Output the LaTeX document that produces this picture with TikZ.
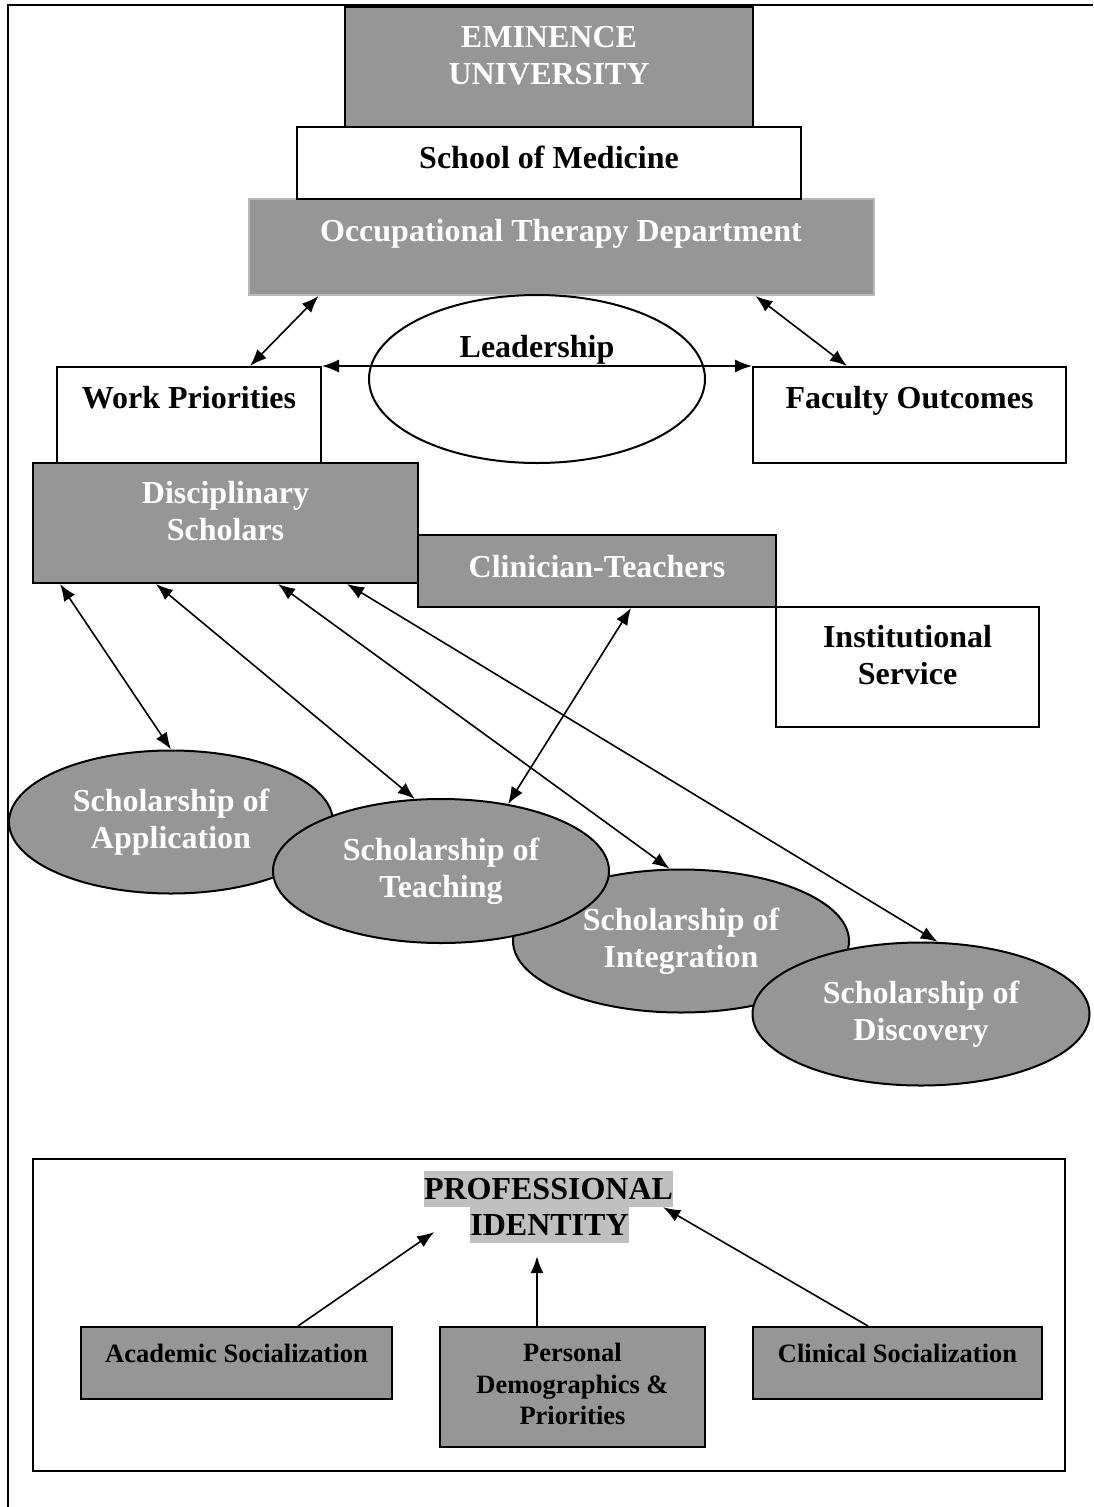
\documentclass[tikz,border=0pt]{standalone}
\usepackage{fontspec}
\setmainfont{Liberation Serif}
\usepackage{tikz}
\usetikzlibrary{shapes.geometric, arrows.meta}
\definecolor{boxgray}{RGB}{150,150,150}
\definecolor{hlgray}{RGB}{192,192,192}
\definecolor{softline}{RGB}{185,185,185}
\newcommand{\lblfont}{\fontsize{32}{37}\selectfont\bfseries}
\newcommand{\lblsmallfont}{\fontsize{26.5}{31.5}\selectfont\bfseries}

\begin{document}
\begin{tikzpicture}[
    x=1pt, y=-1pt,
    plain/.style={rectangle, draw, line width=2pt, fill=white, inner sep=0pt},
    shaded/.style={plain, fill=boxgray},
    scholar/.style={ellipse, draw, line width=2pt, fill=boxgray, inner sep=0pt, align=center, text=white, font=\lblfont},
    lbl/.style={inner sep=0pt, anchor=north, align=center, font=\lblfont},
    wlbl/.style={lbl, text=white},
    small/.style={lbl, font=\lblsmallfont},
    hl/.style={fill=hlgray, inner sep=0pt, minimum height=36pt, text height=21pt, text depth=0pt, font=\lblfont},
    twoway/.style={draw, line width=1.6pt, {Latex[length=17pt,width=13pt]}-{Latex[length=17pt,width=13pt]}},
    oneway/.style={draw, line width=1.6pt, -{Latex[length=17pt,width=13pt]}}
]
    \useasboundingbox (0,0) rectangle (1093,1507);
    \draw[line width=2pt] (8,1507) -- (8,5) -- (1093,5);

    % top of the hierarchy
    \node[shaded, draw=softline, minimum width=625pt, minimum height=96pt] (otd) at (561,247) {};
    \node[plain, minimum width=504pt, minimum height=72pt] (som) at (549,163) {};
    \node[shaded, minimum width=408pt, minimum height=120pt] (uni) at (549,67) {};
    \node[wlbl] (unitxt) at (549,26) {EMINENCE\\UNIVERSITY};
    \node[lbl] (somtxt) at (549,146) {School of Medicine};
    \node[wlbl] (otdtxt) at (561,219) {Occupational Therapy Department};

    \node[ellipse, draw, line width=2pt, minimum width=336pt, minimum height=168pt, inner sep=0pt] (lead) at (537,379) {};
    \node[lbl] (leadtxt) at (537,335) {Leadership};

    \node[plain, minimum width=264pt, minimum height=96pt] (wp) at (189,415) {};
    \node[plain, minimum width=313pt, minimum height=96pt] (fo) at (909.5,415) {};
    \node[lbl] (wptxt) at (189,386) {Work Priorities};
    \node[lbl] (fotxt) at (909.5,386) {Faculty Outcomes};

    \node[shaded, minimum width=385pt, minimum height=120pt] (ds) at (225.5,523) {};
    \node[shaded, minimum width=358pt, minimum height=72pt] (ct) at (597,571) {};
    \node[plain, minimum width=263pt, minimum height=120pt] (is) at (907.5,667) {};
    \node[wlbl] (dstxt) at (225.5,481) {Disciplinary\\Scholars};
    \node[wlbl] (cttxt) at (597,555) {Clinician-Teachers};
    \node[lbl] (istxt) at (907.5,625) {Institutional\\Service};

    % the four scholarships
    \node[scholar, minimum width=324pt, minimum height=143pt] (app) at (171,822) {Scholarship of\\Application};
    \node[scholar, minimum width=336pt, minimum height=143pt] (integ) at (681,941) {Scholarship of\\Integration};
    \node[scholar, minimum width=336pt, minimum height=144pt] (teach) at (441,871) {Scholarship of\\Teaching};
    \node[scholar, minimum width=337pt, minimum height=143pt] (disc) at (921,1014) {Scholarship of\\Discovery};

    \draw[twoway] ([xshift=71pt]otd.south west) -- ([xshift=61pt]wp.north);
    \draw[twoway] ([xshift=-119pt]otd.south east) -- ([xshift=95pt]fo.north west);
    \draw[twoway] (wp.north east) -- (fo.north west);
    \draw[twoway] ([xshift=28pt]ds.south west) -- (app.north);
    \draw[twoway] ([xshift=124pt]ds.south west) -- (teach.110);
    \draw[twoway] ([xshift=246pt]ds.south west) -- (integ.99);
    \draw[twoway] ([xshift=315pt]ds.south west) -- (disc.77);
    \draw[twoway] ([xshift=34pt]ct.south) -- (teach.45);

    % professional identity
    \node[plain, fill=none, minimum width=1032pt, minimum height=312pt] (idbox) at (549,1315) {};
    \node[hl] (prof) at (548.5,1189) {PROFESSIONAL};
    \node[hl] (ident) at (549.5,1225) {IDENTITY};

    \node[shaded, minimum width=311pt, minimum height=72pt] (acad) at (236.5,1363) {};
    \node[shaded, minimum width=265pt, minimum height=120pt] (pers) at (572.5,1387) {};
    \node[shaded, minimum width=289pt, minimum height=72pt] (clin) at (897.5,1363) {};
    \node[small] (acadtxt) at (236.5,1344) {Academic Socialization};
    \node[small] (perstxt) at (572.5,1343) {Personal\\Demographics \&\\Priorities};
    \node[small] (clintxt) at (897.5,1344) {Clinical Socialization};

    \draw[oneway] ([xshift=61.5pt]acad.north) -- ([xshift=-36pt,yshift=-7pt]ident.west);
    \draw[oneway] ([xshift=-35.5pt]pers.north) -- ([xshift=-12.5pt,yshift=-13pt]ident.south);
    \draw[oneway] ([xshift=-29.5pt]clin.north) -- ([xshift=-10pt]prof.south east);
\end{tikzpicture}
\end{document}
